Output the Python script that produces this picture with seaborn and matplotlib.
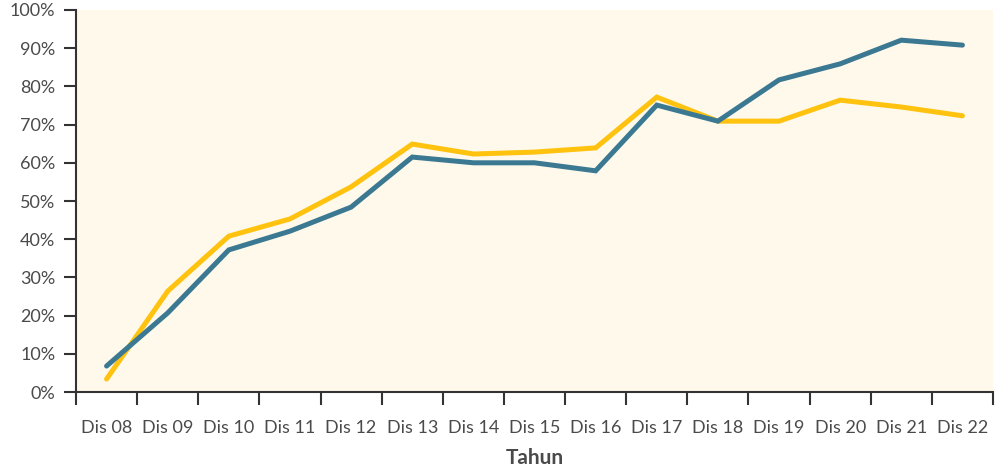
import numpy as np
import pandas as pd
import matplotlib.pyplot as plt
import seaborn as sns

# data (percent)
years = ["Dis 08", "Dis 09", "Dis 10", "Dis 11", "Dis 12", "Dis 13", "Dis 14", "Dis 15",
         "Dis 16", "Dis 17", "Dis 18", "Dis 19", "Dis 20", "Dis 21", "Dis 22"]
teal_values = [6.8, 20.7, 37.2, 42.1, 48.4, 61.5, 60.0, 60.0, 57.9, 75.1, 70.9, 81.7, 85.9, 92.1, 90.8]
yellow_values = [3.4, 26.4, 40.8, 45.3, 53.7, 64.9, 62.3, 62.8, 63.9, 77.2, 70.9, 70.9, 76.4, 74.6, 72.3]
y_ticks = [0, 10, 20, 30, 40, 50, 60, 70, 80, 90, 100]

TEAL = "#3B7892"
YELLOW = "#FFC20E"
BG = "#FEF9EA"
TEXT = "#4a4a4a"

sns.set_theme(style="white")
plt.rcParams["font.family"] = ["Lato", "DejaVu Sans"]

df = pd.DataFrame({
    "pos": list(range(len(years))) * 2,
    "value": teal_values + yellow_values,
    "series": ["teal"] * len(years) + ["yellow"] * len(years),
})

fig = plt.figure(figsize=(10, 4.73), dpi=100)
ax = fig.add_axes([0.076, 0.1712, 0.917, 0.8077])
ax.set_facecolor(BG)

sns.lineplot(data=df, x="pos", y="value", hue="series",
             palette={"teal": TEAL, "yellow": YELLOW},
             hue_order=["yellow", "teal"],
             linewidth=3.6, legend=False, ax=ax,
             solid_capstyle="round", solid_joinstyle="miter")

ax.set_xlim(-0.5, len(years) - 0.5)
ax.set_ylim(0, 100)

# ticks at category boundaries, labels centred between them
ax.set_xticks(np.arange(-0.5, len(years), 1.0))
ax.set_xticklabels([])
ax.set_xticks(np.arange(len(years)), minor=True)
ax.set_xticklabels(years, minor=True)
ax.tick_params(axis="x", which="major", direction="out", length=9, width=1.5,
               color="#333333", bottom=True)
ax.tick_params(axis="x", which="minor", length=0, pad=20, labelsize=13, labelcolor=TEXT)

ax.set_yticks(y_ticks)
ax.set_yticklabels([f"{t}%" for t in y_ticks])
ax.tick_params(axis="y", direction="out", length=9, width=1.5, color="#333333",
               left=True, labelsize=13, labelcolor=TEXT, pad=6)

for side in ["top", "right"]:
    ax.spines[side].set_visible(False)
for side in ["left", "bottom"]:
    ax.spines[side].set_color("#333333")
    ax.spines[side].set_linewidth(1.5)

ax.set_xlabel("Tahun", fontsize=15, fontweight="bold", color=TEXT, labelpad=9)
ax.set_ylabel("")

fig.savefig("out.png", dpi=100)
plt.close(fig)
